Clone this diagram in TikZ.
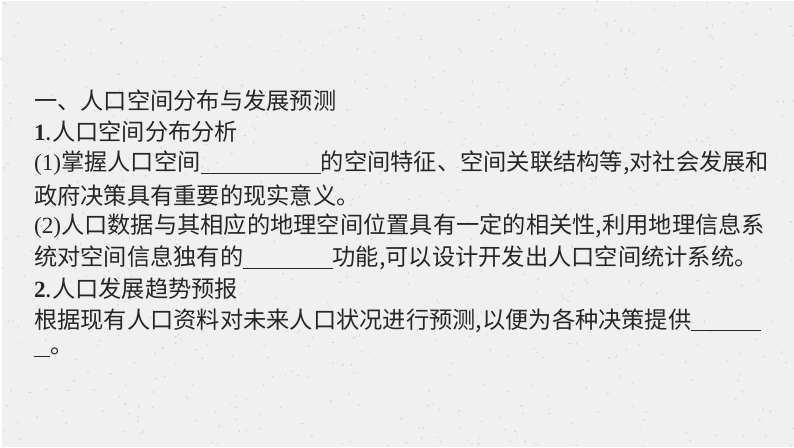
\documentclass[tikz,border=0pt]{standalone}
\usepackage{fontspec}
\setmainfont{Noto Sans CJK SC}
\newfontfamily\lat{Liberation Serif}
\definecolor{bgc}{RGB}{240,240,240}
\definecolor{spk}{RGB}{200,200,200}
\newcommand{\blank}[1]{\rule[-3pt]{#1pt}{0.7pt}}
\begin{document}
\begin{tikzpicture}[
  ln/.style={anchor=west,inner sep=0pt,font=\fontsize{23.4}{25}\selectfont,text=black!85}]
\path[fill=bgc] (0,0) rectangle (28cm,-15.77cm);
\pgfmathsetseed{7}
\foreach \i in {1,...,700}{
  \pgfmathsetmacro{\px}{rnd*28}
  \pgfmathsetmacro{\py}{-rnd*15.77}
  \pgfmathsetmacro{\ang}{rnd*180}
  \draw[spk,line width=0.5pt] (\px,\py) -- ++(\ang:0.08);
}
\draw[spk,line width=0.6pt] (0.05,-0.05) -- (0.12,-0.1);
\draw[spk,line width=0.6pt] (27.9,-15.7) -- (27.95,-15.74);
\node[ln] (l1) at (32pt,-100pt) {一、人口空间分布与发展预测};
\node[ln] (l2) at (32pt,-131pt) {{\lat\bfseries 1}.人口空间分布分析};
\node[ln] (l3) at (32pt,-163pt) {{\lat (1)}掌握人口空间\blank{121}的空间特征、空间关联结构等,对社会发展和};
\node[ln] (l4) at (32pt,-195pt) {政府决策具有重要的现实意义。};
\node[ln] (l5) at (32pt,-226pt) {{\lat (2)}人口数据与其相应的地理空间位置具有一定的相关性,利用地理信息系};
\node[ln] (l6) at (32pt,-258pt) {统对空间信息独有的\blank{90}功能,可以设计开发出人口空间统计系统。};
\node[ln] (l7) at (32pt,-289pt) {{\lat\bfseries 2}.人口发展趋势预报};
\node[ln] (l8) at (32pt,-321pt) {根据现有人口资料对未来人口状况进行预测,以便为各种决策提供\blank{70}};
\node[ln] (l9) at (32pt,-353pt) {\blank{16}。};
\end{tikzpicture}
\end{document}
